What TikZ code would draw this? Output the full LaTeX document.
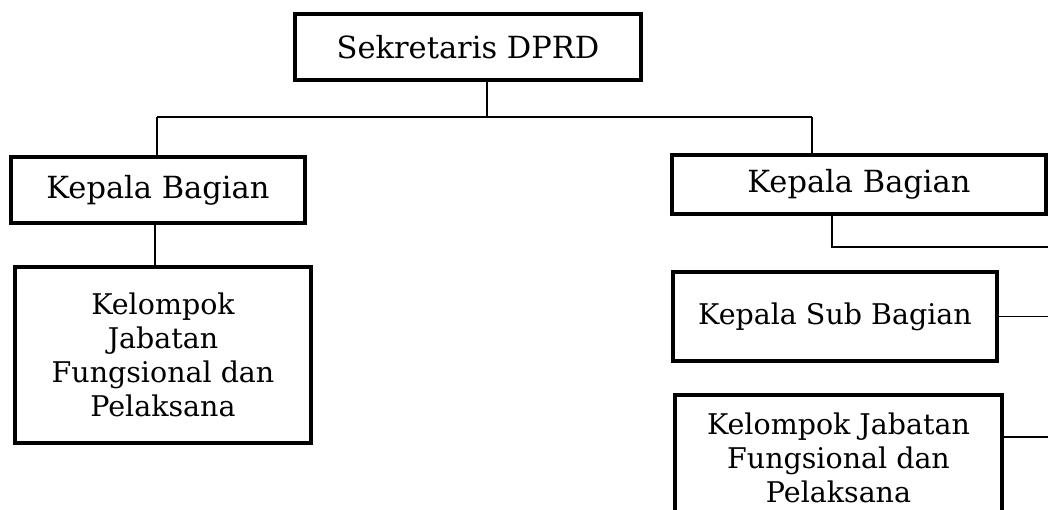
\documentclass[tikz,border=0pt]{standalone}
\usepackage{fontspec}
\setmainfont{DejaVu Serif}
\begin{document}
\begin{tikzpicture}[x=1pt,y=-1pt,
  box/.style={draw=black,line width=4.5pt,fill=white,inner sep=0pt,align=center,
    font=\fontsize{30.5}{40}\selectfont},
  boxs/.style={box,font=\fontsize{28.5}{34}\selectfont},
  link/.style={draw=black,line width=1.5pt}]
\useasboundingbox (0,0) rectangle (1048,510);

% boxes
\node[box,minimum width=346pt,minimum height=66pt] (sek) at (468,47) {Sekretaris DPRD};
\node[box,minimum width=294pt,minimum height=66pt] (kbl) at (158,190) {Kepala Bagian};
\node[boxs,minimum width=296pt,minimum height=176pt] (kjl) at (163,355)
  {Kelompok\\Jabatan\\Fungsional dan\\Pelaksana};
\node[box,minimum width=374pt,minimum height=59pt] (kbr) at (859,184.5) {Kepala Bagian};
\node[boxs,minimum width=324pt,minimum height=89pt] (ksb) at (835,316.5) {Kepala Sub Bagian};
\node[boxs,minimum width=327pt,minimum height=126pt] (kjr) at (838.5,458)
  {Kelompok Jabatan\\Fungsional dan\\Pelaksana};

% junction points
\coordinate (jt) at (487,117);
\coordinate (jl) at (157,117);
\coordinate (jr) at (812,117);
\coordinate (jll) at (155,0);
\coordinate (jrr) at (832,247);
\coordinate (jk) at (0,437);
\coordinate (ex) at (1052,0);

% connectors
\draw[link] (sek.south -| jt) -- (jt);
\draw[link] (jl) -- (jr);
\draw[link] (jl) -- (kbl.north -| jl);
\draw[link] (jr) -- (kbr.north -| jr);
\draw[link] (kbl.south -| jll) -- (kjl.north -| jll);
\draw[link] (kbr.south -| jrr) -- (jrr) -- (jrr -| ex);
\draw[link] (ksb.east) -- (ksb.east -| ex);
\draw[link] (kjr.east |- jk) -- (ex |- jk);
\end{tikzpicture}
\end{document}
